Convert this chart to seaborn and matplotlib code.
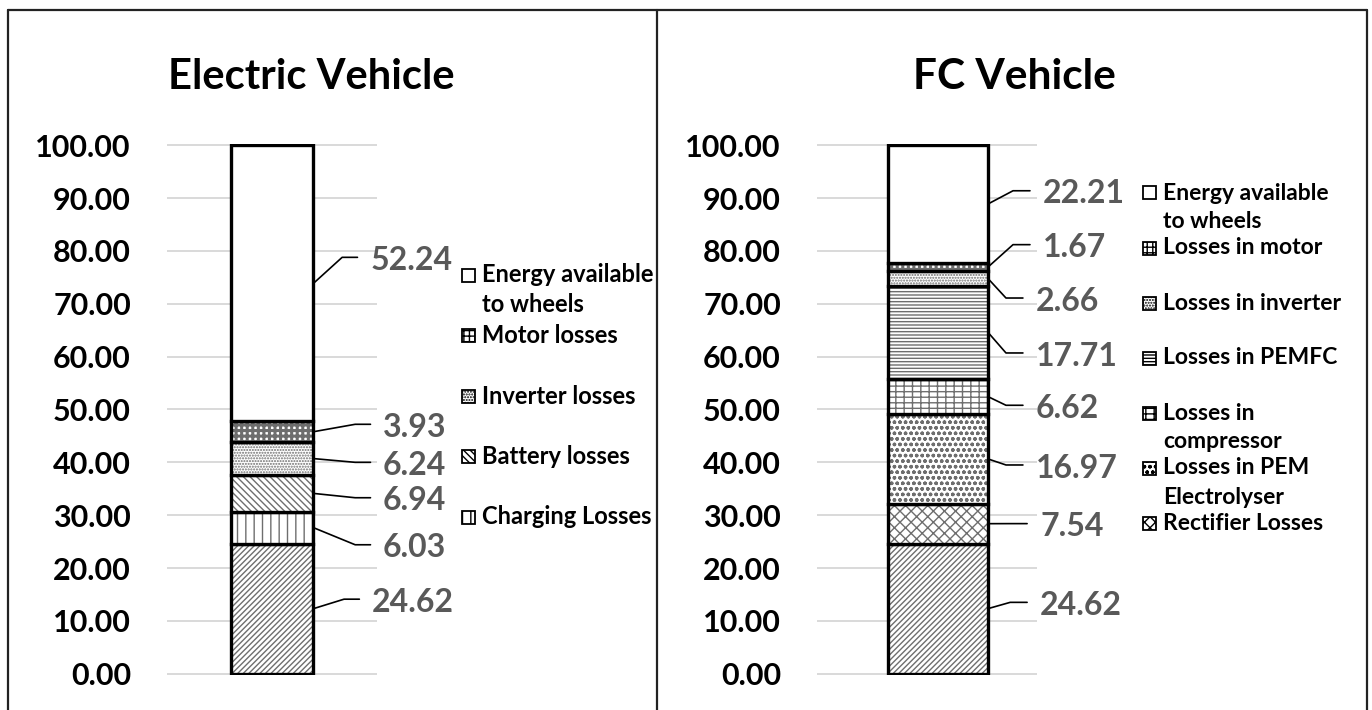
import numpy as np
import matplotlib
matplotlib.use("Agg")
import matplotlib.pyplot as plt
from matplotlib.patches import Rectangle
from matplotlib.lines import Line2D
import seaborn as sns

# ---- data: stack segments listed from the bottom of the bar upward (%) ----
ev_segments = ["Upstream", "Charging Losses", "Battery losses", "Inverter losses",
               "Motor losses", "Energy available\nto wheels"]
ev_values = [24.62, 6.03, 6.94, 6.24, 3.93, 52.24]

fc_segments = ["Upstream", "Rectifier Losses", "Losses in PEM\nElectrolyser",
               "Losses in\ncompressor", "Losses in PEMFC", "Losses in inverter",
               "Losses in motor", "Energy available\nto wheels"]
fc_values = [24.62, 7.54, 16.97, 6.62, 17.71, 2.66, 1.67, 22.21]

y_ticks = [0, 10, 20, 30, 40, 50, 60, 70, 80, 90, 100]

# ---- styling ----
ev_hatches = ["//////", "||", "\\" * 5, "......", "+++", ""]
fc_hatches = ["//////", "xxx", "ooo", "++-", "-----", "......", "+++", ""]
thick_hatch = {"+++": 2.2}

# value-label placement (data units): leader height and left x of the text
ev_label_y = [14.1, 24.4, 33.3, 40.0, 47.2, 78.8]
ev_text_x = [0.476, 0.529, 0.529, 0.529, 0.529, 0.467]
fc_label_y = [13.5, 28.4, 39.5, 50.8, 60.7, 71.1, 81.2, 91.4]
fc_text_x = [0.464, 0.464, 0.445, 0.445, 0.445, 0.445, 0.477, 0.477]

W, H = 1372, 710
HATCH_GREY = "#6e6e6e"
LABEL_GREY = "#595959"
GRID_GREY = "#d9d9d9"

sns.set_style("white")
plt.rcParams["font.family"] = ["Lato", "DejaVu Sans"]
plt.rcParams["font.weight"] = "bold"
plt.rcParams["text.color"] = "black"
plt.rcParams["hatch.linewidth"] = 1.0

fig = plt.figure(figsize=(W / 100, H / 100), dpi=100)
fig.patch.set_facecolor("white")


def fx(px):
    return px / W


def fy(py):
    return 1 - py / H


def draw_panel(ax, name, values, hatches, bar_width, xlim, label_y, text_x,
               elbow_dx, end_dx):
    bottoms = np.concatenate([[0.0], np.cumsum(values)[:-1]])
    for v, b, h in zip(values, bottoms, hatches):
        # hatched fill in grey
        n_before = len(ax.patches)
        sns.barplot(x=[name], y=[v], bottom=b, width=bar_width, color="white",
                    saturation=1, hatch=h, edgecolor=HATCH_GREY, linewidth=0,
                    errorbar=None, ax=ax)
        if h in thick_hatch:
            for p in ax.patches[n_before:]:
                if hasattr(p, "set_hatch_linewidth"):
                    p.set_hatch_linewidth(thick_hatch[h])
        # black outline on top
        sns.barplot(x=[name], y=[v], bottom=b, width=bar_width, color="black",
                    fill=False, edgecolor="black", linewidth=2.4,
                    errorbar=None, ax=ax)

    ax.set_xlim(*xlim)
    ax.set_ylim(-0.25, 100.25)
    ax.set_yticks(y_ticks)
    ax.set_yticklabels([f"{t:.2f}" for t in y_ticks])
    ax.tick_params(axis="y", length=0, pad=26, labelsize=22, labelcolor="black")
    ax.set_xticks([])
    ax.set_xlabel("")
    ax.set_ylabel("")
    for s in ax.spines.values():
        s.set_visible(False)
    ax.yaxis.grid(True, color=GRID_GREY, linewidth=1.4)
    ax.set_axisbelow(True)

    # value labels with leader lines
    half = bar_width / 2
    for v, b, ly, tx in zip(values, bottoms, label_y, text_x):
        cy = b + v / 2
        ax.plot([half, tx - elbow_dx, tx - end_dx], [cy, ly, ly],
                color="black", linewidth=1.2, clip_on=False, zorder=5)
        ax.text(tx, ly - 0.6, f"{v:.2f}", ha="left", va="center", fontsize=23,
                fontweight="bold", color=LABEL_GREY, clip_on=False)


ax1 = fig.add_axes([fx(167), fy(675), fx(210), 531 / H])
ax2 = fig.add_axes([fx(817), fy(675), fx(220), 531 / H])

draw_panel(ax1, "EV", ev_values, ev_hatches, 0.395, (-0.5, 0.5),
           ev_label_y, ev_text_x, 0.133, 0.06)
draw_panel(ax2, "FC", fc_values, fc_hatches, 0.4545, (-0.55, 0.45),
           fc_label_y, fc_text_x, 0.136, 0.059)

# panel titles
fig.text(fx(311), fy(77), "Electric Vehicle", ha="center", va="center",
         fontsize=30, fontweight="bold")
fig.text(fx(1014), fy(77), "FC Vehicle", ha="center", va="center",
         fontsize=30.5, fontweight="bold")


def draw_legend(names, hatches, box_x, text_x, y0, step, line_gap, size, fs):
    # entries listed from the top of the stack downwards, base segment omitted
    entries = list(zip(names[1:], hatches[1:]))[::-1]
    for i, (nm, h) in enumerate(entries):
        yc = y0 + i * step
        fig.add_artist(Rectangle((fx(box_x), fy(yc + size / 2)), size / W, size / H,
                                 transform=fig.transFigure, facecolor="white",
                                 edgecolor="black", hatch=h, linewidth=1.3))
        for j, line in enumerate(nm.split("\n")):
            fig.text(fx(text_x), fy(yc + j * line_gap), line, ha="left",
                     va="center", fontsize=fs, fontweight="bold", color="black")


draw_legend(ev_segments, ev_hatches, 462, 482, 275, 60.5, 30, 13, 17)
draw_legend(fc_segments, fc_hatches, 1143, 1163, 193, 55, 29, 13, 16.5)

# panel frames
frame = dict(transform=fig.transFigure, color="#222222", linewidth=1.6)
fig.add_artist(Line2D([fx(8), fx(1367)], [fy(10), fy(10)], **frame))
for xp in (8, 657, 1367):
    fig.add_artist(Line2D([fx(xp), fx(xp)], [fy(10), fy(712)], **frame))

fig.savefig("out.png", dpi=100, facecolor="white")
